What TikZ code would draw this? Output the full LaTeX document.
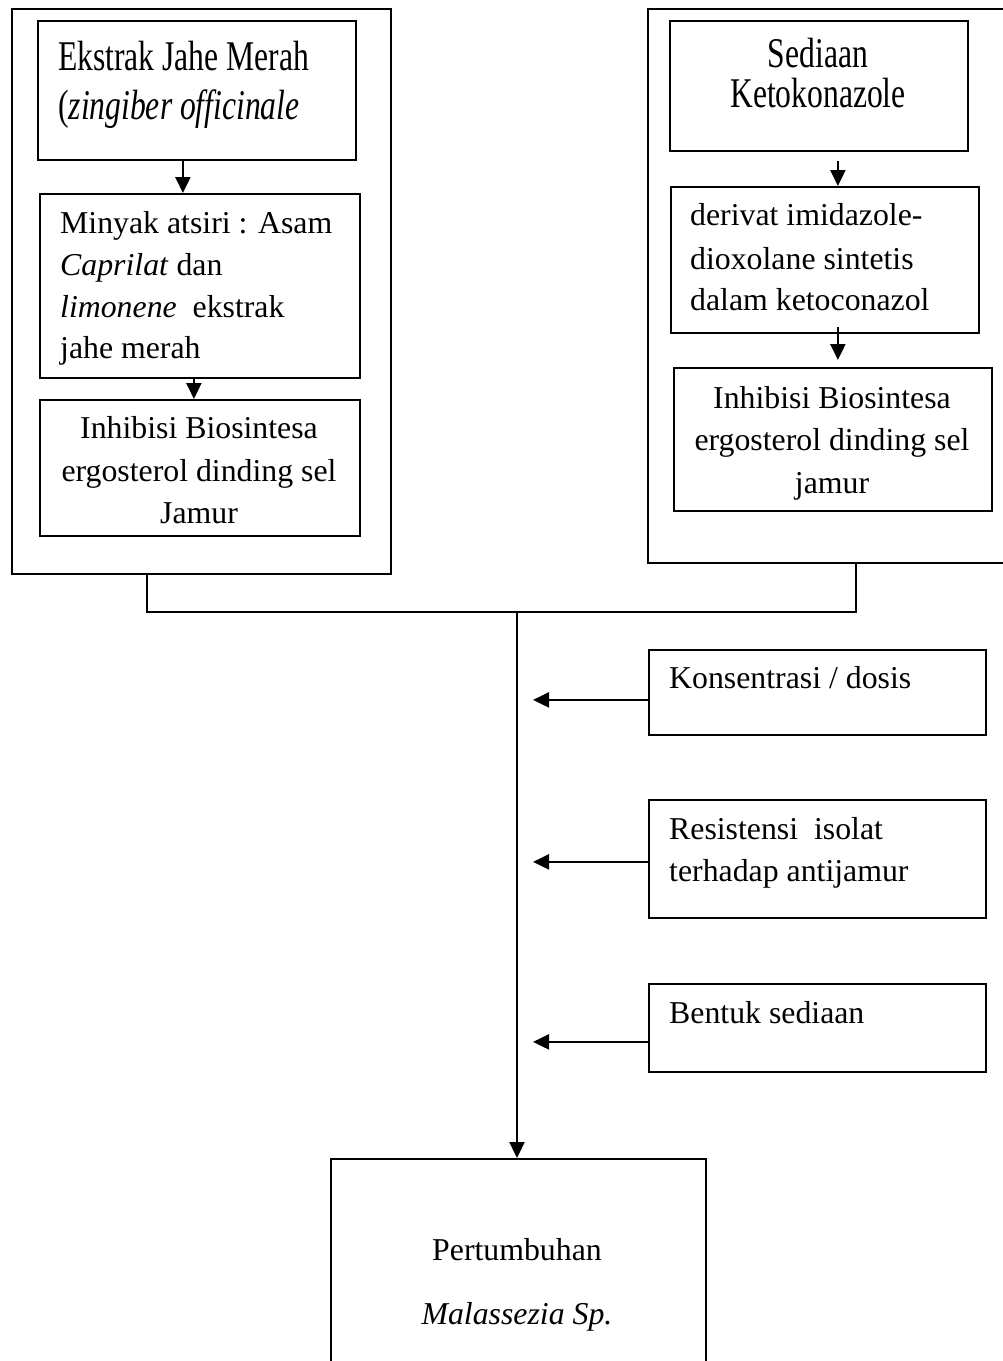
\documentclass[tikz,border=0pt]{standalone}
\usepackage{fontspec}
\setmainfont{Liberation Serif}
\usetikzlibrary{arrows.meta}
\begin{document}
\begin{tikzpicture}[x=1pt,y=-1pt,
  box/.style={draw,line width=1.8pt,inner sep=0pt,anchor=north west},
  txt/.style={inner sep=0pt,font=\fontsize{31.8}{42}\selectfont},
  big/.style={inner sep=0pt,font=\fontsize{42.3}{50}\selectfont},
  arr/.style={line width=2.2pt,-{Triangle[length=16pt,width=15pt]}},
  link/.style={line width=1.8pt}]
\useasboundingbox (0,0) rectangle (1003,1361);
\clip (0,0) rectangle (1003,1361);
% left group
\node[box,minimum width=379pt,minimum height=565pt] (Lout) at (11,8) {};
\node[box,minimum width=318pt,minimum height=139pt] (L1) at (37,20) {};
\node[box,minimum width=320pt,minimum height=184pt] (L2) at (39,193) {};
\node[box,minimum width=320pt,minimum height=136pt] (L3) at (39,399) {};
% right group
\node[box,minimum width=368pt,minimum height=554pt] (Rout) at (647,8) {};
\node[box,minimum width=298pt,minimum height=130pt] (R1) at (669,20) {};
\node[box,minimum width=308pt,minimum height=146pt] (R2) at (670,186) {};
\node[box,minimum width=318pt,minimum height=143pt] (R3) at (673,367) {};
% factor boxes
\node[box,minimum width=337pt,minimum height=85pt] (K) at (648,649) {};
\node[box,minimum width=337pt,minimum height=118pt] (Res) at (648,799) {};
\node[box,minimum width=337pt,minimum height=88pt] (B) at (648,983) {};
% result box
\node[box,minimum width=375pt,minimum height=242pt] (P) at (330,1158) {};
% texts
\node[anchor=base west,inner sep=0pt] (tA1) at (58,70) {\scalebox{0.747}[1]{\fontsize{42.3}{50}\selectfont Ekstrak Jahe Merah}};
\node[anchor=base west,inner sep=0pt] (tA2) at (58,119) {\scalebox{0.747}[1]{\fontsize{42.3}{50}\selectfont (\textit{zingiber officinale}}};
\node[txt,anchor=base west] (tB1) at (60,233) {Minyak atsiri : Asam};
\node[txt,anchor=base west] (tB2) at (60,275) {\textit{Caprilat} dan};
\node[txt,anchor=base west] (tB3) at (60,317) {\textit{limonene}\ \ ekstrak};
\node[txt,anchor=base west] (tB4) at (60,358) {jahe merah};
\node[txt,anchor=base] (tC1) at (199,438) {Inhibisi Biosintesa};
\node[txt,anchor=base] (tC2) at (199,481) {ergosterol dinding sel};
\node[txt,anchor=base] (tC3) at (199,523) {Jamur};
\node[anchor=base,inner sep=0pt] (tD1) at (818,67) {\scalebox{0.747}[1]{\fontsize{42.3}{50}\selectfont Sediaan}};
\node[anchor=base,inner sep=0pt] (tD2) at (818,107) {\scalebox{0.747}[1]{\fontsize{42.3}{50}\selectfont Ketokonazole}};
\node[txt,anchor=base west] (tE1) at (690,225) {derivat imidazole-};
\node[txt,anchor=base west] (tE2) at (690,269) {dioxolane sintetis};
\node[txt,anchor=base west] (tE3) at (690,310) {dalam ketoconazol};
\node[txt,anchor=base] (tF1) at (832,408) {Inhibisi Biosintesa};
\node[txt,anchor=base] (tF2) at (832,450) {ergosterol dinding sel};
\node[txt,anchor=base] (tF3) at (832,493) {jamur};
\node[txt,anchor=base west] (tK) at (669,688) {Konsentrasi / dosis};
\node[txt,anchor=base west] (tR1) at (669,839) {Resistensi\ \ isolat};
\node[txt,anchor=base west] (tR2) at (669,881) {terhadap antijamur};
\node[txt,anchor=base west] (tBs) at (669,1023) {Bentuk sediaan};
\node[txt,anchor=base] (tP1) at (517,1260) {Pertumbuhan};
\node[txt,anchor=base] (tP2) at (517,1324) {\textit{Malassezia Sp.}};
% connectors inside groups
\draw[arr] ([xshift=-14pt]L1.south) -- ([xshift=-17pt]L2.north);
\draw[arr] ([xshift=-6pt]L2.south) -- ([xshift=-6pt]L3.north);
\draw[arr] ([xshift=19pt,yshift=-9pt]R1.south) -- ([xshift=13pt]R2.north);
\draw[arr] ([xshift=13pt,yshift=7pt]R2.south) -- ([xshift=5pt,yshift=7pt]R3.north);
% joining lines
\coordinate (J) at (517,612);
\draw[link] ([xshift=-54.5pt]Lout.south) |- (J);
\draw[link] ([xshift=24pt]Rout.south) |- (J);
\draw[arr] (J) -- (J |- P.north);
% factor arrows
\draw[arr] ([yshift=-7.5pt]K.west) -- ++(-115,0);
\draw[arr] ([yshift=-3pt]Res.west) -- ++(-115,0);
\draw[arr] ([yshift=-14pt]B.west) -- ++(-115,0);
\end{tikzpicture}
\end{document}
